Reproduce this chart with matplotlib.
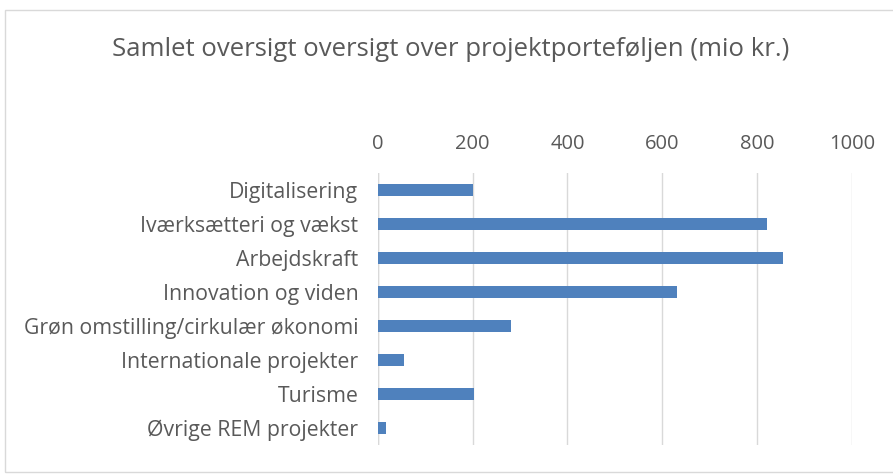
import matplotlib.pyplot as plt
from matplotlib.patches import Rectangle

# data
categories = [
    "Digitalisering",
    "Iværksætteri og vækst",
    "Arbejdskraft",
    "Innovation og viden",
    "Grøn omstilling/cirkulær økonomi",
    "Internationale projekter",
    "Turisme",
    "Øvrige REM projekter",
]
values = [200, 821, 854, 631, 280, 56, 204, 18]
xticks = [0, 200, 400, 600, 800, 1000]

plt.rcParams['font.family'] = ['Open Sans', 'DejaVu Sans']
text_col = '#595959'

fig = plt.figure(figsize=(8.93, 4.74), dpi=100)
ax = fig.add_axes([0.423, 0.061, 0.531, 0.574])

ypos = list(range(len(categories)))
ax.barh(ypos, values, height=0.36, color='#4f81bd', zorder=3)
ax.set_ylim(len(categories) - 0.5, -0.5)
ax.set_xlim(0, 1000)
ax.set_yticks(ypos)
ax.set_yticklabels(categories)
ax.set_xticks(xticks)
ax.xaxis.tick_top()
ax.tick_params(axis='both', length=0, colors=text_col)
ax.tick_params(axis='x', pad=14, labelsize=14.5)
ax.tick_params(axis='y', pad=14, labelsize=15.3)
ax.grid(axis='x', color='#d9d9d9', linewidth=1, zorder=0)
for s in ax.spines.values():
    s.set_visible(False)
ax.axvline(0, color='#d9d9d9', linewidth=1, zorder=1)

fig.text(0.505, 0.896, "Samlet oversigt oversigt over projektporteføljen (mio kr.)",
         ha='center', va='center', fontsize=18.5, color=text_col)

# light chart border like the spreadsheet frame
fig.patches.append(Rectangle((0.006, 0.005), 1.2, 0.973, transform=fig.transFigure,
                             fill=False, edgecolor='#d9d9d9', linewidth=1))

fig.savefig('out.png', dpi=100)
